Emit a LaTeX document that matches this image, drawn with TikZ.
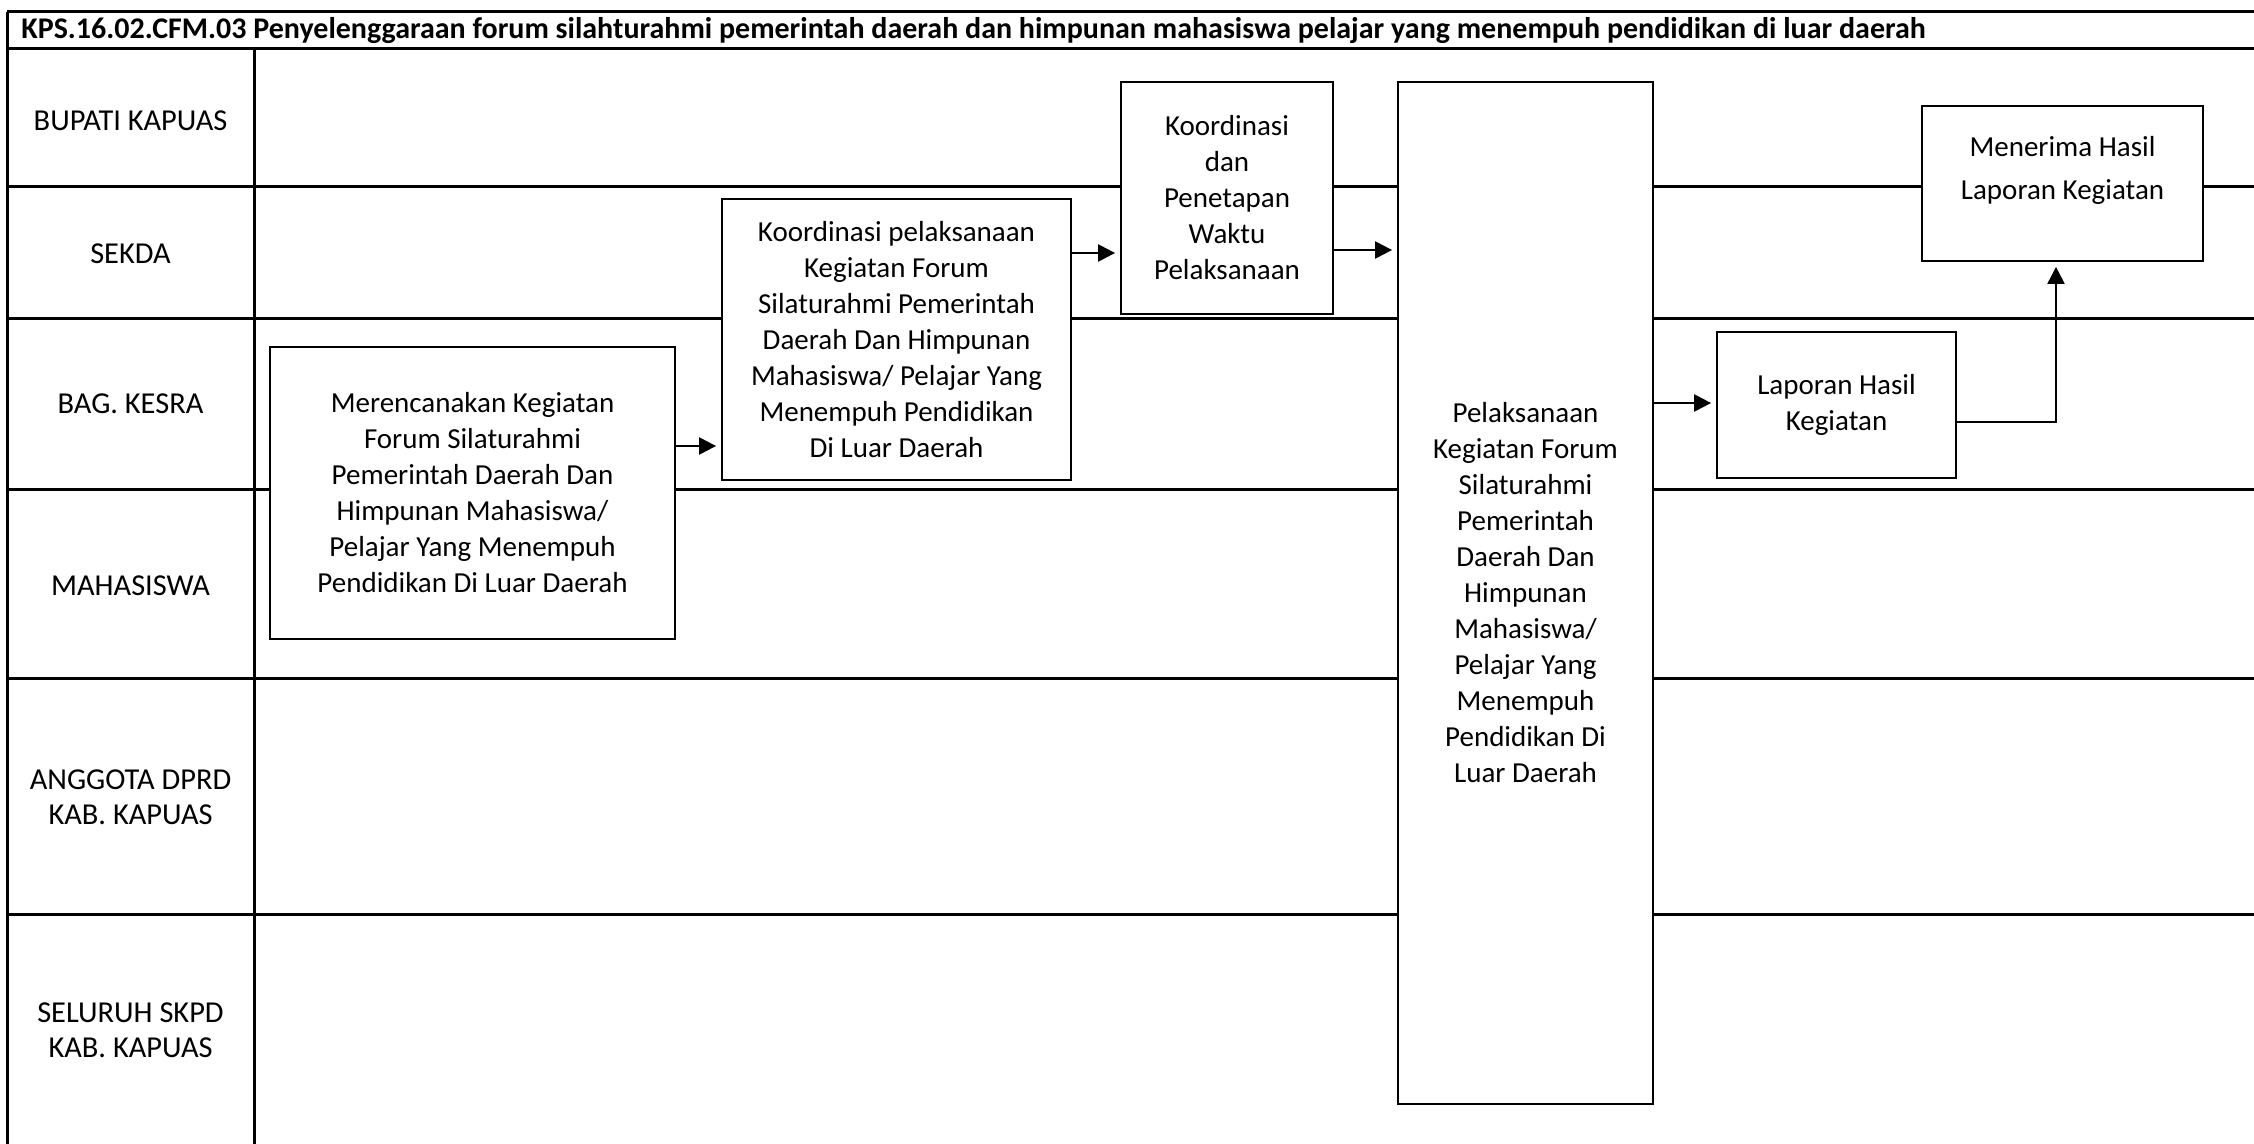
\documentclass[tikz,border=0pt]{standalone}
\usepackage{fontspec}
\setmainfont{Carlito}
\usetikzlibrary{arrows.meta}
\begin{document}
\begin{tikzpicture}[x=0.5pt,y=-0.5pt,
  grid/.style={line width=1.5pt,black},
  box/.style={draw,line width=0.9pt,fill=white,inner sep=0pt,align=center,font=\fontsize{14.5}{18}\selectfont},
  lane/.style={align=center,font=\fontsize{15.2}{17.5}\selectfont},
  arr/.style={line width=1.1pt,-{Triangle[length=8.5pt,width=8.5pt]},shorten >=2.5pt}]
\useasboundingbox (0,0) rectangle (2254,1144);
% grid
\draw[grid] (7,12) -- (2254,12);
\draw[grid] (7,49) -- (2254,49);
\foreach \yy in {187,319,489,678,914}{\draw[grid] (7,\yy) -- (2254,\yy);}
\draw[grid] (7,12) -- (7,1144);
\draw[grid] (254,49) -- (254,1144);
% title
\node[anchor=west,inner sep=0pt,font=\fontsize{15}{17}\selectfont\bfseries] (title) at (21,31) {KPS.16.02.CFM.03 Penyelenggaraan forum silahturahmi pemerintah daerah dan himpunan mahasiswa pelajar yang menempuh pendidikan di luar daerah};
% lane labels
\node[lane] (l1) at (130.5,121) {BUPATI KAPUAS};
\node[lane] (l2) at (130.5,254) {SEKDA};
\node[lane] (l3) at (130.5,404) {BAG. KESRA};
\node[lane] (l4) at (130.5,586) {MAHASISWA};
\node[lane] (l5) at (130.5,797) {ANGGOTA DPRD\\KAB. KAPUAS};
\node[lane] (l6) at (130.5,1030) {SELURUH SKPD\\KAB. KAPUAS};
% boxes
\node[box,minimum width=202.5pt,minimum height=146pt] (b1) at (472.5,493)
  {Merencanakan Kegiatan\\Forum Silaturahmi\\Pemerintah Daerah Dan\\Himpunan Mahasiswa/\\Pelajar Yang Menempuh\\Pendidikan Di Luar Daerah};
\node[box,minimum width=174.5pt,minimum height=140.5pt] (b2) at (896.5,339.5)
  {Koordinasi pelaksanaan\\Kegiatan Forum\\Silaturahmi Pemerintah\\Daerah Dan Himpunan\\Mahasiswa/ Pelajar Yang\\Menempuh Pendidikan\\Di Luar Daerah};
\node[box,minimum width=106pt,minimum height=116pt] (b3) at (1227,198)
  {Koordinasi\\dan\\Penetapan\\Waktu\\Pelaksanaan};
\node[box,minimum width=127.5pt,minimum height=511pt] (b4) at (1525.5,593)
  {Pelaksanaan\\Kegiatan Forum\\Silaturahmi\\Pemerintah\\Daerah Dan\\Himpunan\\Mahasiswa/\\Pelajar Yang\\Menempuh\\Pendidikan Di\\Luar Daerah};
\node[box,minimum width=119.5pt,minimum height=73pt] (b5) at (1836.5,405)
  {Laporan Hasil\\Kegiatan};
\node[box,minimum width=140.5pt,minimum height=77.5pt,font=\fontsize{14.5}{21.5}\selectfont] (b6) at (2062.5,183.5)
  {Menerima Hasil\\Laporan Kegiatan\\[-12pt]\strut};
% connectors
\draw[arr] (b1.east |- 0,446) -- (b2.west |- 0,446);
\draw[arr] (b2.east |- 0,253) -- (b3.west |- 0,253);
\draw[arr] (b3.east |- 0,250) -- (b4.west |- 0,250);
\draw[arr] (b4.east |- 0,403) -- (b5.west |- 0,403);
\draw[arr] (b5.east |- 0,422) -| (b6.south -| 2056,0);
\end{tikzpicture}
\end{document}
